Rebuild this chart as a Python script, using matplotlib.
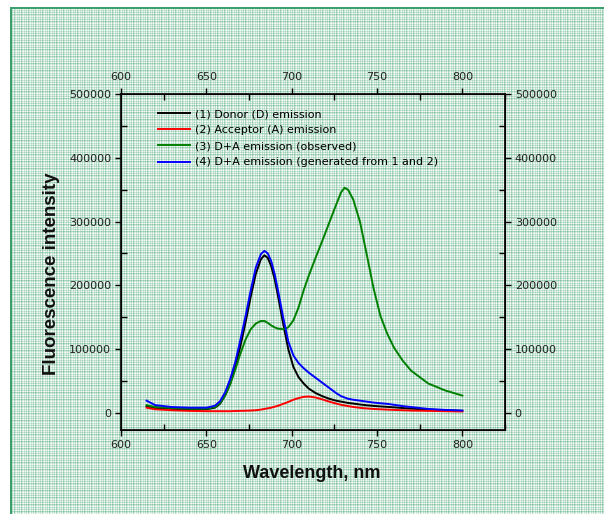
import numpy as np
import matplotlib
matplotlib.use("Agg")
import matplotlib.pyplot as plt
from matplotlib.ticker import MultipleLocator

# wavelength grid (nm) and intensities
wavelength = [615, 620, 630, 640, 650,
              655, 658, 661, 664, 667,
              670, 673, 676, 679, 682,
              684, 686, 688, 690, 692,
              695, 698, 701, 704, 707,
              710, 714, 718, 722, 726,
              729, 731, 733, 736, 740,
              744, 748, 752, 756, 760,
              765, 770, 780, 790, 800]
donor = [10000, 7500, 6000, 5500, 5500,
         8000, 14000, 27000, 46000, 72000,
         105000, 142000, 182000, 218000, 241000,
         247000, 243000, 230000, 210000, 183000,
         140000, 100000, 72000, 56000, 46000,
         38000, 31000, 26000, 22000, 19000,
         17500, 16500, 15500, 14500, 13000,
         11800, 10800, 10000, 9300, 8500,
         7500, 6500, 5000, 4000, 3000]
acceptor = [8000, 5500, 4000, 3000, 2500,
            2500, 2500, 2500, 2500, 2800,
            3000, 3200, 3500, 4000, 5000,
            6000, 7000, 8000, 9500, 11000,
            14000, 17000, 20500, 23000, 25000,
            25500, 24000, 21000, 17500, 14500,
            12500, 11500, 10500, 9200, 7800,
            6800, 6000, 5500, 5000, 4500,
            4000, 3500, 3000, 2500, 2000]
observed = [12000, 9000, 7500, 6500, 6500,
            9000, 15000, 27000, 45000, 68000,
            93000, 115000, 131000, 140000, 144000,
            144000, 141000, 137000, 134000, 132000,
            131000, 134000, 145000, 165000, 192000,
            215000, 243000, 270000, 298000, 326000,
            346000, 353000, 350000, 335000, 300000,
            248000, 195000, 152000, 124000, 102000,
            82000, 66000, 46000, 35000, 27000]
generated = [19000, 12000, 9000, 8000, 8000,
             11000, 18000, 32000, 53000, 80000,
             115000, 152000, 192000, 228000, 249000,
             254000, 250000, 238000, 218000, 192000,
             150000, 112000, 90000, 78000, 70000,
             63000, 55000, 47000, 39000, 31000,
             26000, 24000, 22000, 20500, 19000,
             17500, 16000, 15000, 14000, 12500,
             10500, 9000, 6000, 4500, 3500]

labels = ["(1) Donor (D) emission",
          "(2) Acceptor (A) emission",
          "(3) D+A emission (observed)",
          "(4) D+A emission (generated from 1 and 2)"]
colors = ["black", "#ff0000", "#008000", "#0000ff"]

W, H = 604, 514

# graph-paper background
prof = np.array([0.7, 0.25, 0.0, 0.4, 0.1, 0.5, 0.0]) * 0.6
px = prof[np.arange(W) % len(prof)]
py = prof[np.arange(H) % len(prof)]
a = 1 - (1 - px[None, :]) * (1 - py[:, None])
white = np.array([1.0, 1.0, 1.0])
green = np.array([70, 165, 115]) / 255
bg = white - a[:, :, None] * (white - green)
bg[:7, :, :] = 1.0
bg[:, :10, :] = 1.0
bg[7:9, 10:, :] = np.array([60, 160, 110]) / 255
bg[7:, 10:12, :] = np.array([60, 160, 110]) / 255

fig = plt.figure(figsize=(W / 100, H / 100), dpi=100)
fig.figimage(bg, xo=0, yo=0, origin="upper", zorder=-10)

ax = fig.add_axes([121 / W, 1 - 430 / H, 384 / W, 336 / H])
ax.set_facecolor("none")

for ys, c, lab in zip([donor, acceptor, observed, generated], colors, labels):
    ax.plot(wavelength, ys, color=c, lw=1.4, label=lab)

ax.set_xlim(600, 825)
ax.set_ylim(-27000, 500000)
ax.xaxis.set_minor_locator(MultipleLocator(25))
ax.yaxis.set_major_locator(MultipleLocator(100000))
ax.yaxis.set_minor_locator(MultipleLocator(50000))
ax.set_xticks([600, 650, 700, 750, 800])

ax.tick_params(which="major", direction="out", length=4, width=1, labelsize=8,
               labelcolor="#222222", pad=3, right=True, labelright=True)
ax.tick_params(which="minor", direction="in", length=4, width=1, right=True)
ax.tick_params(axis="x", which="both", top=False)
for s in ax.spines.values():
    s.set_linewidth(1.2)

top = ax.twiny()
top.set_xlim(ax.get_xlim())
top.set_xticks([600, 650, 700, 750, 800])
top.xaxis.set_minor_locator(MultipleLocator(25))
top.tick_params(which="major", direction="out", length=4, width=1, labelsize=8,
                labelcolor="#222222", pad=5)
top.tick_params(which="minor", direction="in", length=4, width=1)
top.set_facecolor("none")

ax.legend(loc="upper left", bbox_to_anchor=(0.096, 0.955), frameon=False,
          fontsize=8, handlelength=2.9, handletextpad=0.45, labelspacing=0.55,
          borderaxespad=0, borderpad=0)

fig.text(312 / W, 1 - 473 / H, "Wavelength, nm", ha="center", va="center",
         fontsize=13, fontweight="bold", family="Liberation Sans", color="#111111")
fig.text(52 / W, 1 - 274 / H, "Fluorescence intensity", ha="center", va="center",
         rotation=90, fontsize=13.5, fontweight="bold", family="Liberation Sans",
         color="#111111")

fig.savefig("out.png", dpi=100)
